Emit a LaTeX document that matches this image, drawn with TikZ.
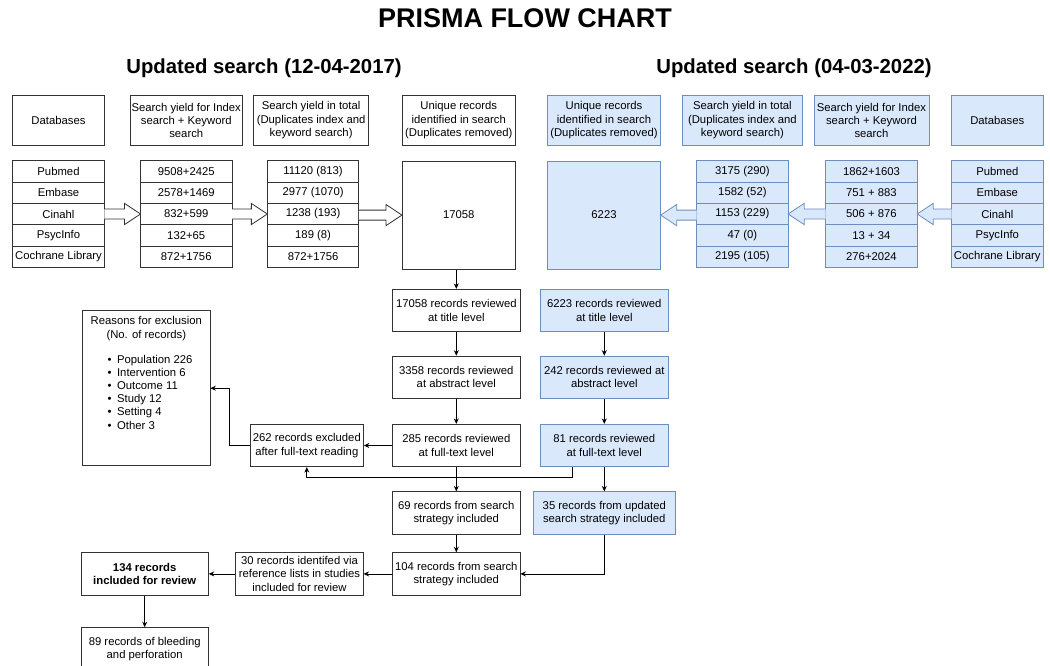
\documentclass[tikz,border=0pt]{standalone}
\usepackage{fontspec}
\setmainfont{Liberation Sans}
\usepackage{xcolor}
\usepackage{tikz}
\usetikzlibrary{shapes,arrows,arrows.meta,positioning,fit,calc}
\definecolor{bluefill}{HTML}{DAE8FC}
\definecolor{blueline}{HTML}{6C8EBF}
\definecolor{boxline}{HTML}{333333}
\newcommand{\fs}{\fontsize{11.3}{13.2}\selectfont}
\tikzstyle{hdr} = [rectangle, draw=boxline, fill=white, align=center, minimum height=50pt, inner sep=1pt, font=\fs]
\tikzstyle{cell} = [rectangle, draw=boxline, fill=white, minimum width=91.5pt, minimum height=21.36pt, inner sep=0pt, outer sep=0pt, font=\fs]
\tikzstyle{flow} = [rectangle, draw=boxline, fill=white, align=center, minimum width=127.3pt, minimum height=42.4pt, inner sep=1pt, font=\fs]
\tikzstyle{upd} = [fill=bluefill, draw=blueline]
\tikzstyle{arrow} = [->, >={Stealth[length=5.5pt,width=5pt]}, draw=black]
\tikzstyle{fat} = [draw=boxline, fill=white]
\newcommand{\fatright}[2]{\draw[fat] ($(#1.east |- #2.west)+(0,-5)$) -- ($(#2.west)+(-16,-5)$) -- ($(#2.west)+(-16,-10.6)$) -- (#2.west) -- ($(#2.west)+(-16,10.6)$) -- ($(#2.west)+(-16,5)$) -- ($(#1.east |- #2.west)+(0,5)$);}
\newcommand{\fatleft}[2]{\draw[fat, upd] ($(#1.west |- #2.east)+(0,-5)$) -- ($(#2.east)+(16,-5)$) -- ($(#2.east)+(16,-10.6)$) -- (#2.east) -- ($(#2.east)+(16,10.6)$) -- ($(#2.east)+(16,5)$) -- ($(#1.west |- #2.east)+(0,5)$);}

\begin{document}
\begin{tikzpicture}[x=1pt, y=-1pt, line width=0.8pt]
    \useasboundingbox (0,0) rectangle (1050,666);
    \node[font=\fontsize{27}{30}\selectfont\bfseries, anchor=base] (title) at (525,27.3) {PRISMA FLOW CHART};
    \node[font=\fontsize{20.3}{24}\selectfont\bfseries, anchor=base] (headL) at (264,74) {Updated search (12-04-2017)};
    \node[font=\fontsize{20.3}{24}\selectfont\bfseries, anchor=base] (headR) at (794,74) {Updated search (04-03-2022)};

    \node[hdr, minimum width=91.3pt] (hdbL) at (58.5,120.2) {Databases};
    \node[hdr, minimum width=111.8pt, right=25.4pt of hdbL] (hixL) {Search yield for Index\\search + Keyword\\search};
    \node[hdr, minimum width=115.3pt, right=10.5pt of hixL] (htoL) {Search yield in total\\(Duplicates index and\\keyword search)};
    \node[hdr, minimum width=112.9pt, right=32.8pt of htoL] (hunL) {Unique records\\identified in search\\(Duplicates removed)};

    \node[cell, below=15pt of hdbL] (dbL1) {Pubmed};
    \node[cell, below=0pt of dbL1] (dbL2) {Embase};
    \node[cell, below=0pt of dbL2] (dbL3) {Cinahl};
    \node[cell, below=0pt of dbL3] (dbL4) {PsycInfo};
    \node[cell, below=0pt of dbL4] (dbL5) {Cochrane Library};
    \node[cell, below=15pt of hixL] (ixL1) {9508+2425};
    \node[cell, below=0pt of ixL1] (ixL2) {2578+1469};
    \node[cell, below=0pt of ixL2] (ixL3) {832+599};
    \node[cell, below=0pt of ixL3] (ixL4) {132+65};
    \node[cell, below=0pt of ixL4] (ixL5) {872+1756};
    \node[cell, below=15pt of htoL, xshift=2pt] (toL1) {11120 (813)};
    \node[cell, below=0pt of toL1] (toL2) {2977 (1070)};
    \node[cell, below=0pt of toL2] (toL3) {1238 (193)};
    \node[cell, below=0pt of toL3] (toL4) {189 (8)};
    \node[cell, below=0pt of toL4] (toL5) {872+1756};
    \node[hdr, minimum width=112.9pt, minimum height=108.2pt, below=15pt of hunL] (unL) {17058};

    \node[hdr, upd, minimum width=112.6pt] (hunR) at (604,120.2) {Unique records\\identified in search\\(Duplicates removed)};
    \node[hdr, upd, minimum width=120pt, right=21.3pt of hunR] (htoR) {Search yield in total\\(Duplicates index and\\keyword search)};
    \node[hdr, upd, minimum width=114.9pt, right=10.8pt of htoR] (hixR) {Search yield for Index\\search + Keyword\\search};
    \node[hdr, upd, minimum width=91.2pt, right=22pt of hixR] (hdbR) {Databases};

    \node[hdr, upd, minimum width=112.6pt, minimum height=108.2pt, below=15pt of hunR] (unR) {6223};
    \node[cell, upd, below=15pt of htoR] (toR1) {3175 (290)};
    \node[cell, upd, below=0pt of toR1] (toR2) {1582 (52)};
    \node[cell, upd, below=0pt of toR2] (toR3) {1153 (229)};
    \node[cell, upd, below=0pt of toR3] (toR4) {47 (0)};
    \node[cell, upd, below=0pt of toR4] (toR5) {2195 (105)};
    \node[cell, upd, below=15pt of hixR] (ixR1) {1862+1603};
    \node[cell, upd, below=0pt of ixR1] (ixR2) {751 + 883};
    \node[cell, upd, below=0pt of ixR2] (ixR3) {506 + 876};
    \node[cell, upd, below=0pt of ixR3] (ixR4) {13 + 34};
    \node[cell, upd, below=0pt of ixR4] (ixR5) {276+2024};
    \node[cell, upd, below=15pt of hdbR] (dbR1) {Pubmed};
    \node[cell, upd, below=0pt of dbR1] (dbR2) {Embase};
    \node[cell, upd, below=0pt of dbR2] (dbR3) {Cinahl};
    \node[cell, upd, below=0pt of dbR3] (dbR4) {PsycInfo};
    \node[cell, upd, below=0pt of dbR4] (dbR5) {Cochrane Library};

    \fatright{dbL3}{ixL3} \fatright{ixL3}{toL3} \fatright{toL3}{unL}
    \fatleft{dbR3}{ixR3} \fatleft{ixR3}{toR3} \fatleft{toR3}{unR}

    \node[flow] (tiL) at (456.3,310.5) {17058 records reviewed\\at title level};
    \node[flow, below=23.6pt of tiL] (abL) {3358 records reviewed\\at abstract level};
    \node[flow, below=25pt of abL] (ftL) {285 records reviewed\\at full-text level};
    \node[flow, below=24.3pt of ftL] (inL) {69 records from search\\strategy included};
    \node[flow, below=17.7pt of inL] (srL) {104 records from search\\strategy included};
    \node[flow, upd] (tiR) at (604.3,310.5) {6223 records reviewed\\at title level};
    \node[flow, upd, below=23.6pt of tiR] (abR) {242 records reviewed at\\abstract level};
    \node[flow, upd, below=25pt of abR] (ftR) {81 records reviewed\\at full-text level};
    \node[flow, upd, minimum width=141.3pt, below=24.3pt of ftR] (inR) {35 records from updated\\search strategy included};
    \node[flow, minimum width=113.3pt, left=28.4pt of ftL] (exc) {262 records excluded\\after full-text reading};
    \node[flow, left=28.7pt of srL] (ref) {30 records identifed via\\reference lists in studies\\included for review};
    \node[flow, font=\fs\bfseries, left=26.7pt of ref] (rev) {134 records\\included for review};
    \node[flow, below=31.7pt of rev] (ble) {89 records of bleeding\\and perforation};
    \node[rectangle, draw=boxline, inner sep=0pt, font=\fs] (rsn) at (146.3,388.2) {\parbox[c][155pt][t]{127.3pt}{\vspace*{6pt}\centering Reasons for exclusion\\(No. of records)\par
        \vspace{11.8pt}\raggedright\leftskip=25pt
        \textbullet\hspace{5.5pt}Population 226\\
        \textbullet\hspace{5.5pt}Intervention 6\\
        \textbullet\hspace{5.5pt}Outcome 11\\
        \textbullet\hspace{5.5pt}Study 12\\
        \textbullet\hspace{5.5pt}Setting 4\\
        \textbullet\hspace{5.5pt}Other 3\par}};

    \draw[arrow] (tiL.north |- unL.south) -- (tiL.north);
    \draw[arrow] (tiL) -- (abL); \draw[arrow] (abL) -- (ftL);
    \draw[arrow] (ftL) -- (inL); \draw[arrow] (inL) -- (srL);
    \draw[arrow] (tiR) -- (abR); \draw[arrow] (abR) -- (ftR);
    \draw[arrow] (ftR) -- (inR);
    \draw[arrow] (ftL) -- (exc);
    \draw[arrow] (exc.west) -- ++(-20.3,0) |- (rsn.east);
    \draw[arrow] ([xshift=-31.6pt]ftR.south) -- ++(0,10.3) -| (exc.south);
    \draw[arrow] (inR.south) |- (srL.east);
    \draw[arrow] (srL) -- (ref); \draw[arrow] (ref) -- (rev);
    \draw[arrow] (rev) -- (ble);
\end{tikzpicture}
\end{document}
